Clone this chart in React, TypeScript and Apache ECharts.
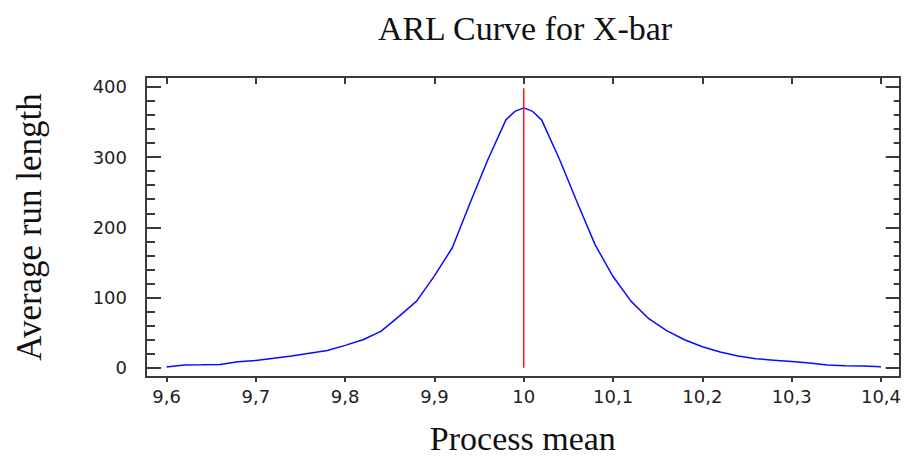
import React, { useEffect, useRef } from "react";
import * as echarts from "echarts";

const titleText = "ARL Curve for X-bar";
const xName = "Process mean";
const yName = "Average run length";

const processMeans = [
  9.6, 9.62, 9.64, 9.66, 9.68, 9.7, 9.72, 9.74, 9.76, 9.78, 9.8, 9.82, 9.84, 9.86, 9.88, 9.9, 9.92, 9.94, 9.96, 9.98,
  9.99, 10.0, 10.01, 10.02, 10.04, 10.06, 10.08, 10.1, 10.12, 10.14, 10.16, 10.18, 10.2, 10.22, 10.24, 10.26, 10.28,
  10.3, 10.32, 10.34, 10.36, 10.38, 10.4,
];
const arlValues = [
  1.4, 4.1, 4.3, 4.8, 8.8, 10.5, 13.7, 16.8, 20.7, 24.6, 32, 40, 52, 73, 95, 131, 171, 235, 297, 353,
  365, 370, 365, 353, 297, 235, 175, 130, 95, 70, 53, 40, 30, 22.5, 17, 13, 11, 9, 7, 4, 3, 2.5, 1.5,
];

const targetMean = 10;
const targetLine = [0, 398];

const xTicks = [9.6, 9.7, 9.8, 9.9, 10.0, 10.1, 10.2, 10.3, 10.4];
const yMajorTicks = [0, 100, 200, 300, 400];
const yMinorTicks = [20, 40, 60, 80, 120, 140, 160, 180, 220, 240, 260, 280, 320, 340, 360, 380];

const AXIS_COLOR = "#3a3a3a";

export default function App() {
  const ref = useRef<HTMLDivElement>(null);

  useEffect(() => {
    if (!ref.current) return;
    const chart = echarts.init(ref.current, undefined, { renderer: "svg" });
    const xMin = 9.577;
    const xMax = 10.421;
    const yMin = -13;
    const yMax = 414;
    const lineStyle = { color: AXIS_COLOR, width: 2 };
    const fmt = (v: number) => String(Math.round(v * 10) / 10).replace(".", ",");

    chart.setOption({
      animation: false,
      backgroundColor: "#ffffff",
      title: {
        text: titleText,
        left: 520,
        textAlign: "center",
        top: 6,
        textStyle: { fontFamily: "Liberation Serif", fontSize: 34, fontWeight: "normal", color: "#111" },
      },
      grid: { left: 146, right: 1, top: 77, bottom: 77, containLabel: false },
      xAxis: [
        {
          type: "value",
          position: "bottom",
          min: xMin,
          max: xMax,
          name: xName,
          nameLocation: "middle",
          nameGap: 44,
          nameTextStyle: { fontFamily: "Liberation Serif", fontSize: 34, color: "#111" },
          axisLine: { show: true, onZero: false, lineStyle },
          axisTick: { show: true, inside: false, length: 5, customValues: xTicks, lineStyle },
          axisLabel: {
            show: true,
            customValues: xTicks,
            formatter: fmt,
            margin: 10,
            fontFamily: "DejaVu Sans",
            fontSize: 18,
            color: "#222",
          },
          splitLine: { show: false },
        },
        {
          type: "value",
          position: "top",
          min: xMin,
          max: xMax,
          axisLine: { show: true, onZero: false, lineStyle },
          axisTick: { show: true, inside: true, length: 7, customValues: xTicks, lineStyle },
          axisLabel: { show: false },
          splitLine: { show: false },
        },
      ],
      yAxis: [
        {
          type: "value",
          position: "left",
          min: yMin,
          max: yMax,
          name: yName,
          nameLocation: "middle",
          nameGap: 99,
          nameTextStyle: { fontFamily: "Liberation Serif", fontSize: 35, color: "#111" },
          axisLine: { show: true, onZero: false, lineStyle },
          axisTick: { show: true, inside: true, length: 15, customValues: yMajorTicks, lineStyle },
          axisLabel: {
            show: true,
            customValues: yMajorTicks,
            margin: 19,
            fontFamily: "DejaVu Sans",
            fontSize: 18,
            color: "#222",
          },
          splitLine: { show: false },
        },
        {
          type: "value",
          position: "left",
          min: yMin,
          max: yMax,
          axisLine: { show: false, onZero: false },
          axisTick: { show: true, inside: true, length: 9, customValues: yMinorTicks, lineStyle },
          axisLabel: { show: false },
          splitLine: { show: false },
        },
        {
          type: "value",
          position: "right",
          min: yMin,
          max: yMax,
          axisLine: { show: true, onZero: false, lineStyle },
          axisTick: { show: true, inside: true, length: 14, customValues: yMajorTicks, lineStyle },
          axisLabel: { show: false },
          splitLine: { show: false },
        },
        {
          type: "value",
          position: "right",
          min: yMin,
          max: yMax,
          axisLine: { show: false, onZero: false },
          axisTick: { show: true, inside: true, length: 6, customValues: yMinorTicks, lineStyle },
          axisLabel: { show: false },
          splitLine: { show: false },
        },
      ],
      series: [
        {
          name: "ARL",
          type: "line",
          xAxisIndex: 0,
          yAxisIndex: 0,
          symbol: "none",
          data: processMeans.map((x, i) => [x, arlValues[i]]),
          lineStyle: { color: "#0a0aff", width: 1.5 },
          z: 3,
        },
        {
          name: "Target",
          type: "line",
          xAxisIndex: 0,
          yAxisIndex: 0,
          symbol: "none",
          data: targetLine.map((v) => [targetMean, v]),
          lineStyle: { color: "#ff1a1a", width: 1.5 },
          z: 4,
        },
      ],
    });
    return () => chart.dispose();
  }, []);

  return (
    <div
      ref={ref}
      style={{ position: "absolute", left: 0, top: 0, width: 904, height: 460, background: "#fff" }}
    />
  );
}
